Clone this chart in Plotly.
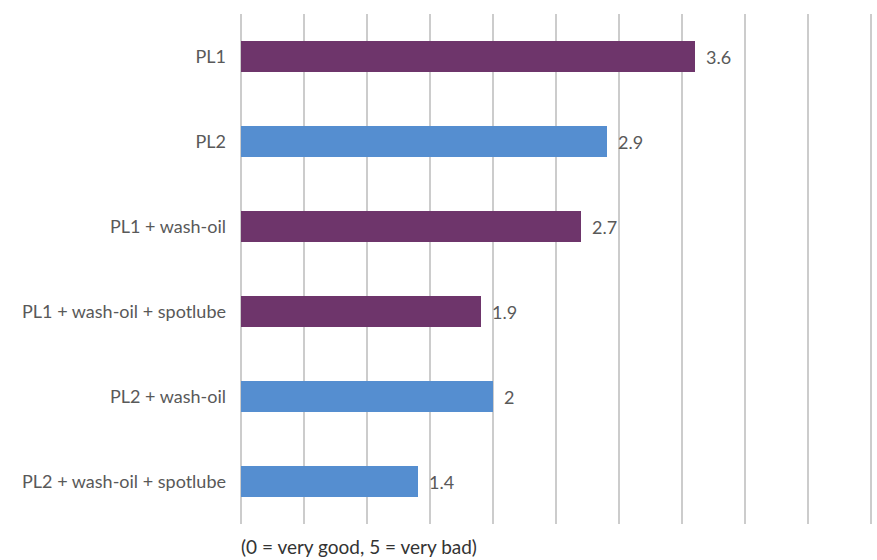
import plotly.graph_objects as go

categories = ["PL1", "PL2", "PL1 + wash-oil", "PL1 + wash-oil + spotlube",
              "PL2 + wash-oil", "PL2 + wash-oil + spotlube"]
values = [3.6, 2.9, 2.7, 1.9, 2, 1.4]
value_labels = ["3.6", "2.9", "2.7", "1.9", "2", "1.4"]
colors = ["#6E356B", "#558ED0", "#6E356B", "#6E356B", "#558ED0", "#558ED0"]
axis_title = "(0 = very good, 5 = very bad)"

FONT = "Lato, Roboto, Arial, sans-serif"

fig = go.Figure(go.Bar(
    x=values, y=categories, orientation="h",
    marker=dict(color=colors, line=dict(width=0)),
    width=0.355,
    hoverinfo="x+y",
))

annotations = [dict(x=v, y=c, text=t, xref="x", yref="y", xanchor="left",
                    xshift=9, showarrow=False,
                    font=dict(family=FONT, size=18, color="#595959"))
               for v, c, t in zip(values, categories, value_labels)]
annotations.append(dict(text=axis_title, xref="paper", yref="paper",
                        x=0, y=0, xanchor="left", yanchor="top", yshift=-9,
                        xshift=-2, showarrow=False,
                        font=dict(family=FONT, size=19, color="#333333")))

fig.update_layout(
    width=877, height=560,
    margin=dict(l=241, r=3, t=14, b=36),
    plot_bgcolor="white", paper_bgcolor="white",
    font=dict(family=FONT, color="#595959", size=18),
    showlegend=False,
    bargap=0,
    xaxis=dict(range=[0, 5.02], dtick=0.5, showticklabels=False,
               showgrid=True, gridcolor="#CCCCCC", gridwidth=2,
               zeroline=True, zerolinecolor="#CCCCCC", zerolinewidth=2,
               showline=False, fixedrange=True),
    yaxis=dict(autorange="reversed", showgrid=False, zeroline=False,
               showline=False, ticks="", ticklabelstandoff=14,
               tickfont=dict(family=FONT, size=18, color="#595959")),
    annotations=annotations,
)

fig.write_html("out.html", config={"displayModeBar": False},
               post_script="document.body.style.margin='0';document.body.style.overflow='hidden';")
